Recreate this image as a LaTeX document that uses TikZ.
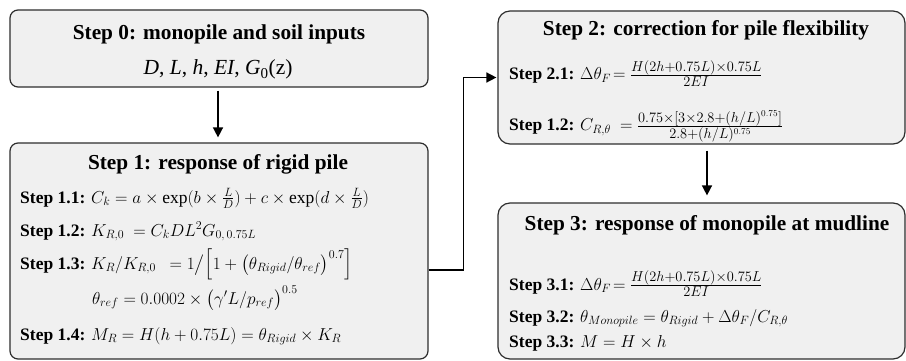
\documentclass[tikz,border=0pt]{standalone}
\usepackage{amsmath}
\usepackage{fontspec}
\setmainfont{Liberation Serif}
\usetikzlibrary{arrows.meta}
\definecolor{boxfill}{RGB}{240,240,240}
\definecolor{boxline}{RGB}{45,45,45}
\newcommand{\smfrac}[2]{\mbox{\fontsize{19}{20}\selectfont$\frac{#1}{#2}$}}
\tikzset{
  stepbox/.style={draw=boxline, fill=boxfill, line width=1.2pt, rounded corners=8pt, inner sep=0pt},
  ttl/.style={font=\fontsize{21.3}{23}\selectfont\bfseries, anchor=base, inner sep=0pt},
  ln/.style={font=\fontsize{17.5}{19}\selectfont, anchor=base west, inner sep=0pt},
  arr/.style={line width=1.5pt, draw=black, -{Triangle[length=10pt,width=10pt]}},
}
\begin{document}
\begin{tikzpicture}[x=1pt,y=-1pt]
\useasboundingbox (0,0) rectangle (906,361);
% boxes
\node[stepbox, minimum width=418pt, minimum height=77pt] (box0) at (219,48.5) {};
\node[stepbox, minimum width=418pt, minimum height=216pt] (box1) at (219,251) {};
\node[stepbox, rounded corners=12pt, minimum width=407pt, minimum height=133pt] (box2) at (701.5,77.5) {};
\node[stepbox, rounded corners=12pt, minimum width=407pt, minimum height=156pt] (box3) at (701.5,281) {};
% box 0
\node[ttl] (t0) at (219,40) {Step 0: monopile and soil inputs};
\node[ln, anchor=base, font=\fontsize{21.5}{23}\selectfont] (l0) at (218,75) {\textit{D}, \textit{L}, \textit{h}, \textit{EI}, \textit{G}\textsubscript{0}(z)};
% box 1
\node[ttl] (t1) at (218,169) {Step 1: response of rigid pile};
\node[ln] (l11) at (20,203) {\textbf{Step 1.1:} $C_k = a\times\exp(b\times\frac{L}{D}) + c\times\exp(d\times\frac{L}{D})$};
\node[ln] (l12) at (20,236) {\textbf{Step 1.2:} $K_{R,0}\ = C_k D L^2 G_{0,\,0.75L}$};
\node[ln] (l13) at (20,269) {\textbf{Step 1.3:} $K_R/K_{R,0}\ \ = 1\big/\Big[1+\big(\theta_{Rigid}/\theta_{ref}\big)^{0.7}\Big]$};
\node[ln] (l13b) at (92,304) {$\theta_{ref} = 0.0002\times\big(\gamma' L/p_{ref}\big)^{0.5}$};
\node[ln] (l14) at (20,340) {\textbf{Step 1.4:} $M_R = H(h+0.75L) = \theta_{Rigid}\times K_R$};
% box 2
\node[ttl] (t2) at (706,36) {Step 2: correction for pile flexibility};
\node[ln] (l21) at (509,80) {\textbf{Step 2.1:} $\Delta\theta_F\!=$ \smfrac{H(2h+0.75L)\times0.75L}{2EI}};
\node[ln] (l22) at (509,131) {\textbf{Step 1.2:} $C_{R,\theta}\ =$ \smfrac{0.75\times\left[3\times2.8+(h/L)^{0.75}\right]}{2.8+(h/L)^{0.75}}};
% box 3
\node[ttl] (t3) at (707,230) {Step 3: response of monopile at mudline};
\node[ln] (l31) at (509,290) {\textbf{Step 3.1:} $\Delta\theta_F\!=$ \smfrac{H(2h+0.75L)\times0.75L}{2EI}};
\node[ln] (l32) at (509,322) {\textbf{Step 3.2:} $\theta_{Monopile} = \theta_{Rigid} + \Delta\theta_F/C_{R,\theta}$};
\node[ln] (l33) at (509,347) {\textbf{Step 3.3:} $M = H\times h$};
% connectors
\draw[arr] ([xshift=-1pt,yshift=-3pt]box0.south) -- ([xshift=-1pt,yshift=5pt]box1.north);
\draw[arr] ([yshift=-19pt]box1.east) -- ++(35,0) |- ([xshift=-1pt]box2.west);
\draw[arr] ([xshift=5.5pt,yshift=-6pt]box2.south) -- ([xshift=5.5pt,yshift=7pt]box3.north);
\end{tikzpicture}
\end{document}
